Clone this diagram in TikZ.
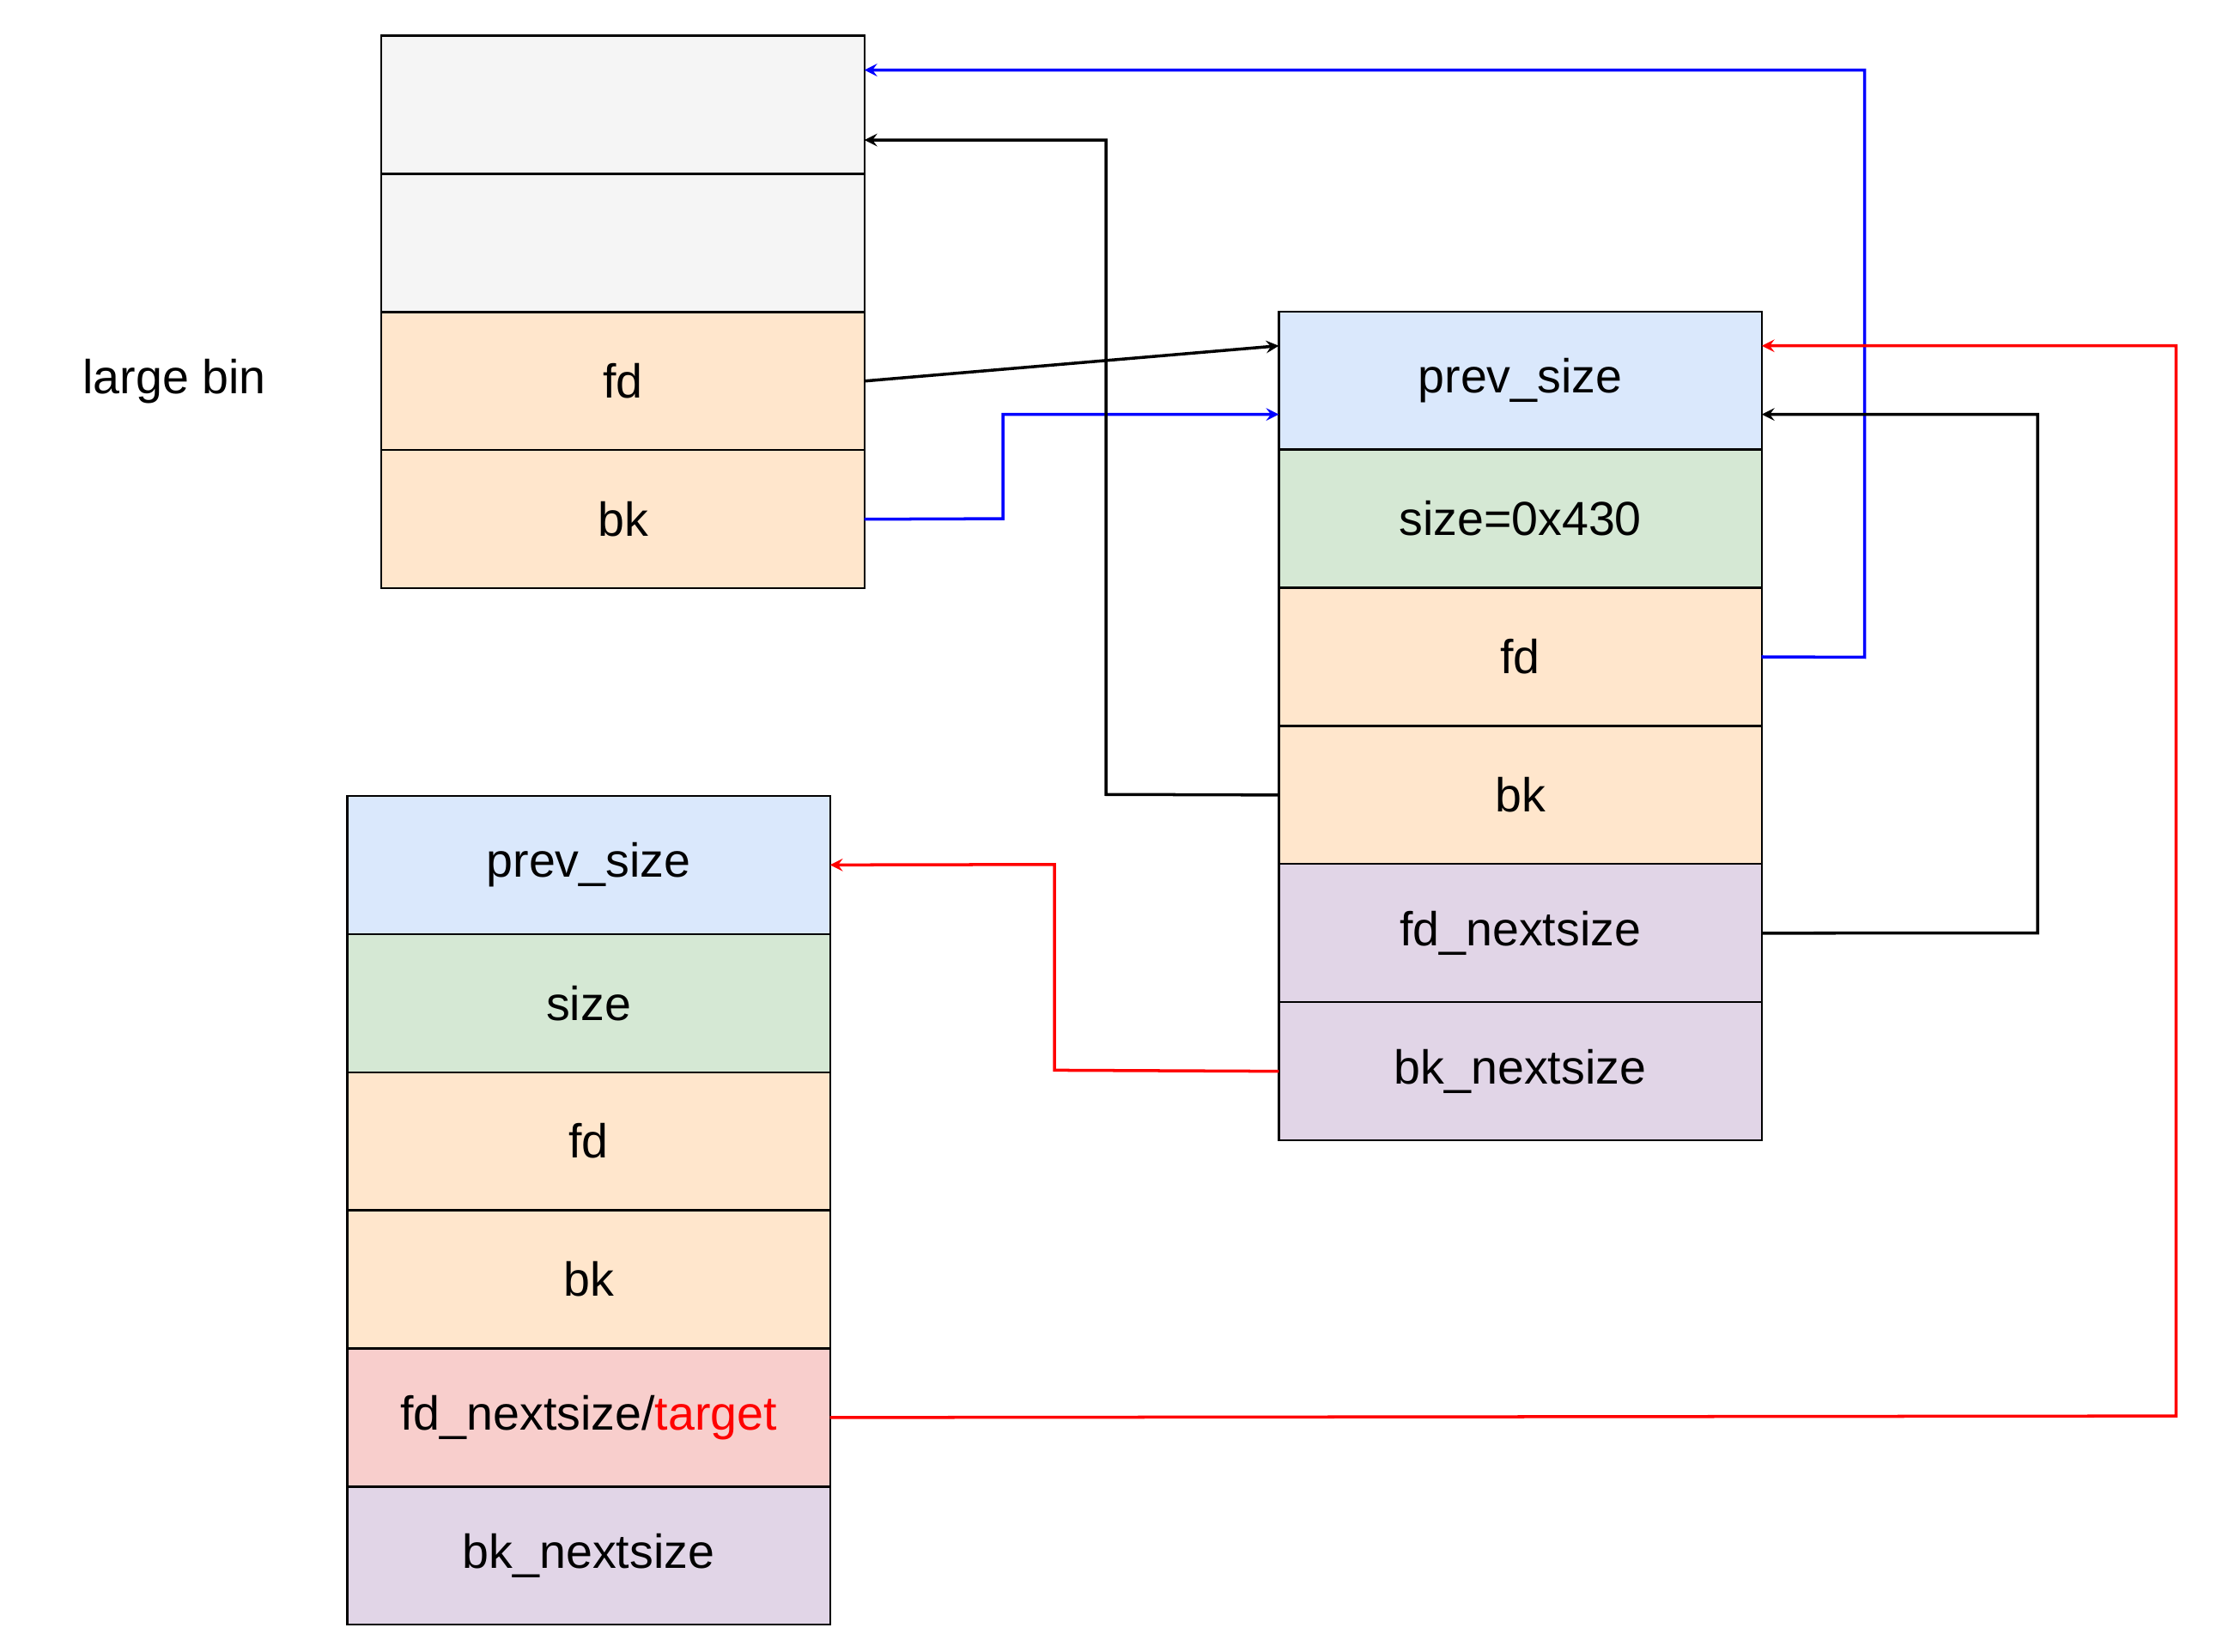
\documentclass[tikz,border=0pt]{standalone}
\usepackage{fontspec}
\setmainfont{Liberation Sans}
\usetikzlibrary{positioning}
\definecolor{cgray}{HTML}{F5F5F5}
\definecolor{cblue}{HTML}{DAE8FC}
\definecolor{cgreen}{HTML}{D5E8D4}
\definecolor{corange}{HTML}{FFE6CC}
\definecolor{cpurple}{HTML}{E1D5E7}
\definecolor{cred}{HTML}{F8CECC}
\begin{document}
\begin{tikzpicture}[x=0.02cm,y=-0.02cm,->,>=stealth,node distance=0pt,thick,
  font=\fontsize{19}{23}\selectfont]
\tikzstyle{c}=[rectangle,draw,thick,minimum width=6.76cm,minimum height=1.934cm,outer sep=0pt,inner sep=0pt]
\useasboundingbox (0,0) rectangle (1560,1156);
\node at (122,267) {large bin};
% large bin
\node[c,fill=cgray,anchor=north west] (b1) at (267,25) {};
\node[c,fill=cgray]   (b2) [below = of b1] {};
\node[c,fill=corange] (bfd) [below = of b2] {fd};
\node[c,fill=corange] (bbk) [below = of bfd] {bk};
% chunk in bin
\node[c,fill=cblue,anchor=north west] (mprev) at (895,218) {prev\_size};
\node[c,fill=cgreen]  (msize) [below = of mprev] {size=0x430};
\node[c,fill=corange] (mfd) [below = of msize] {fd};
\node[c,fill=corange] (mbk) [below = of mfd] {bk};
\node[c,fill=cpurple] (mfdn) [below = of mbk] {fd\_nextsize};
\node[c,fill=cpurple] (mbkn) [below = of mfdn] {bk\_nextsize};
% fake chunk
\node[c,fill=cblue,anchor=north west] (lprev) at (243,557) {prev\_size};
\node[c,fill=cgreen]  (lsize) [below = of lprev] {size};
\node[c,fill=corange] (lfd) [below = of lsize] {fd};
\node[c,fill=corange] (lbk) [below = of lfd] {bk};
\node[c,fill=cred]    (lfdn) [below = of lbk] {fd\_nextsize/\textcolor{red}{target}};
\node[c,fill=cpurple] (lbkn) [below = of lfdn] {bk\_nextsize};
% pointers
\coordinate (t1) at (605,49);  \coordinate (t2) at (605,98);
\coordinate (t3) at (1233,242); \coordinate (t4) at (1233,290);
\coordinate (t5) at (895,242);  \coordinate (t6) at (895,290);
\draw[thin,line width=1.2pt] (bfd.east) -- (t5);
\draw[thin,line width=1.2pt,blue] (bbk.east) -- (702,363) -- (702,290) -- (t6);
\draw[thin,line width=1.2pt] (mbk.west) -- (774,556) -- (774,98) -- (t2);
\draw[thin,line width=1.2pt,blue] (mfd.east) -- (1305,460) -- (1305,49) -- (t1);
\draw[thin,line width=1.2pt] (mfdn.east) -- (1426,653) -- (1426,290) -- (t4);
\draw[thin,line width=1.2pt,red] (lfdn.east) -- (1523,991) -- (1523,242) -- (t3);
\draw[thin,line width=1.2pt,red] (mbkn.west) -- (738,749) -- (738,605) -- (lprev.east);
\end{tikzpicture}
\end{document}
